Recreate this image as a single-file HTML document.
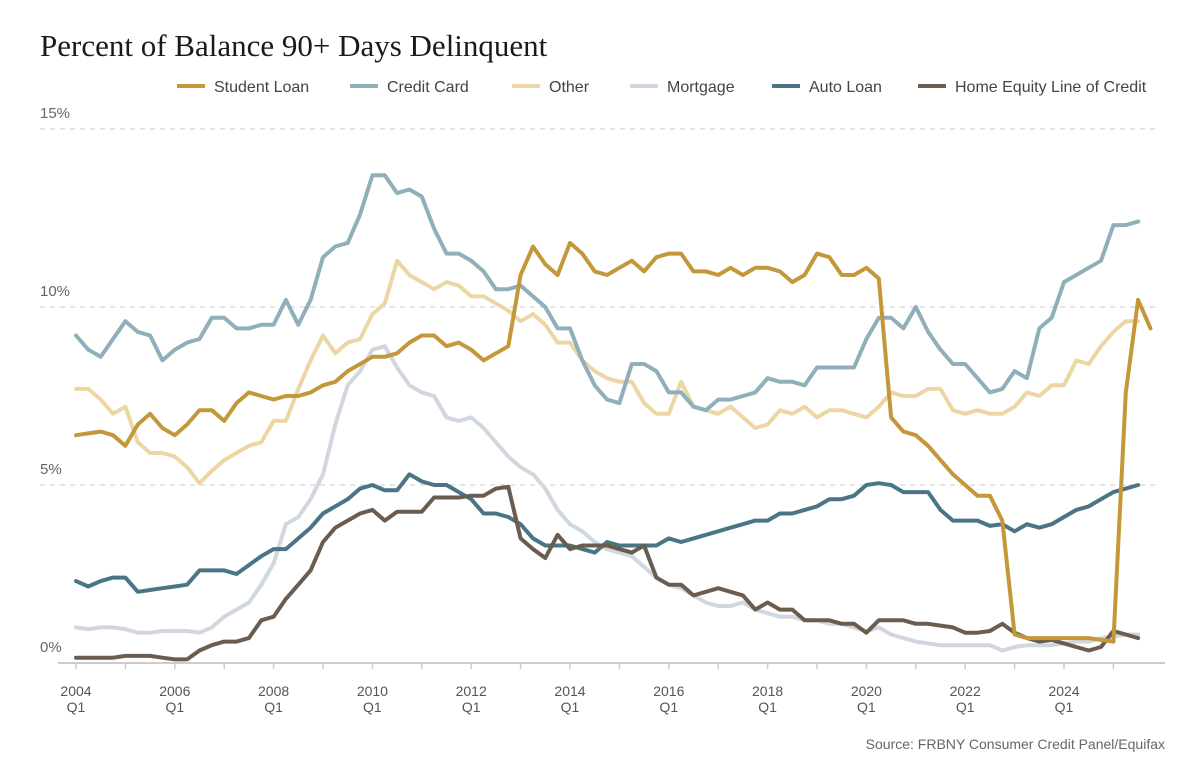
<!DOCTYPE html>
<html><head><meta charset="utf-8">
<style>
body{margin:0;background:#fff;width:1200px;height:767px;overflow:hidden;font-family:"Liberation Sans",sans-serif;}
svg{display:block}
</style></head>
<body>
<svg id="chart" width="1200" height="767" xmlns="http://www.w3.org/2000/svg">
<text x="40" y="56" font-family="Liberation Serif, serif" font-size="31" fill="#1a1a1a">Percent of Balance 90+ Days Delinquent</text>
<g id="legend"></g>
<g id="grid"></g>
<g id="series"></g>
<g id="xaxis"></g>
<text x="1165" y="749" text-anchor="end" font-size="14" fill="#666">Source: FRBNY Consumer Credit Panel/Equifax</text>
</svg>
<script>
const yTicks=[0,5,10,15];
const yTickLabels=["0%","5%","10%","15%"];
const xTickYears=[2004,2006,2008,2010,2012,2014,2016,2018,2020,2022,2024];
const seriesNames=["Mortgage","Other","Credit Card","Auto Loan","Home Equity Line of Credit","Student Loan"];
const legendOrder=["Student Loan","Credit Card","Other","Mortgage","Auto Loan","Home Equity Line of Credit"];
const studentLoan=[6.4,6.45,6.5,6.4, 6.1,6.7,7.0,6.6, 6.4,6.7,7.1,7.1, 6.8,7.3,7.6,7.5, 7.4,7.5,7.5,7.6, 7.8,7.9,8.2,8.4, 8.6,8.6,8.7,9.0, 9.2,9.2,8.9,9.0, 8.8,8.5,8.7,8.9, 10.9,11.7,11.2,10.9, 11.8,11.5,11.0,10.9, 11.1,11.3,11.0,11.4, 11.5,11.5,11.0,11.0, 10.9,11.1,10.9,11.1, 11.1,11.0,10.7,10.9, 11.5,11.4,10.9,10.9, 11.1,10.8,6.9,6.5, 6.4,6.1,5.7,5.3, 5.0,4.7,4.7,4.0, 0.8,0.7,0.7,0.7, 0.7,0.7,0.7,0.65, 0.6,7.6,10.2,9.4];
const creditCard=[9.2,8.8,8.6,9.1, 9.6,9.3,9.2,8.5, 8.8,9.0,9.1,9.7, 9.7,9.4,9.4,9.5, 9.5,10.2,9.5,10.2, 11.4,11.7,11.8,12.6, 13.7,13.7,13.2,13.3, 13.1,12.2,11.5,11.5, 11.3,11.0,10.5,10.5, 10.6,10.3,10.0,9.4, 9.4,8.5,7.8,7.4, 7.3,8.4,8.4,8.2, 7.6,7.6,7.2,7.1, 7.4,7.4,7.5,7.6, 8.0,7.9,7.9,7.8, 8.3,8.3,8.3,8.3, 9.1,9.7,9.7,9.4, 10.0,9.3,8.8,8.4, 8.4,8.0,7.6,7.7, 8.2,8.0,9.4,9.7, 10.7,10.9,11.1,11.3, 12.3,12.3,12.4];
const other=[7.7,7.7,7.4,7.0, 7.2,6.2,5.9,5.9, 5.8,5.5,5.05,5.4, 5.7,5.9,6.1,6.2, 6.8,6.8,7.7,8.5, 9.2,8.7,9.0,9.1, 9.8,10.1,11.3,10.9, 10.7,10.5,10.7,10.6, 10.3,10.3,10.1,9.9, 9.6,9.8,9.5,9.0, 9.0,8.5,8.2,8.0, 7.9,7.9,7.3,7.0, 7.0,7.9,7.2,7.1, 7.0,7.2,6.9,6.6, 6.7,7.1,7.0,7.2, 6.9,7.1,7.1,7.0, 6.9,7.2,7.6,7.5, 7.5,7.7,7.7,7.1, 7.0,7.1,7.0,7.0, 7.2,7.6,7.5,7.8, 7.8,8.5,8.4,8.9, 9.3,9.6,9.6];
const mortgage=[1.0,0.95,1.0,1.0, 0.95,0.85,0.85,0.9, 0.9,0.9,0.85,1.0, 1.3,1.5,1.7,2.2, 2.8,3.9,4.1,4.6, 5.3,6.7,7.8,8.2, 8.8,8.9,8.3,7.8, 7.6,7.5,6.9,6.8, 6.9,6.6,6.2,5.8, 5.5,5.3,4.9,4.3, 3.9,3.7,3.4,3.2, 3.1,3.0,2.7,2.4, 2.2,2.1,1.9,1.7, 1.6,1.6,1.7,1.5, 1.4,1.3,1.3,1.2, 1.2,1.1,1.1,1.0, 0.9,1.0,0.8,0.7, 0.6,0.55,0.5,0.5, 0.5,0.5,0.5,0.35, 0.45,0.5,0.5,0.5, 0.55,0.6,0.6,0.7, 0.75,0.8,0.8];
const autoLoan=[2.3,2.15,2.3,2.4, 2.4,2.0,2.05,2.1, 2.15,2.2,2.6,2.6, 2.6,2.5,2.75,3.0, 3.2,3.2,3.5,3.8, 4.2,4.4,4.6,4.9, 5.0,4.85,4.85,5.3, 5.1,5.0,5.0,4.8, 4.6,4.2,4.2,4.1, 3.9,3.5,3.3,3.3, 3.3,3.2,3.1,3.4, 3.3,3.3,3.3,3.3, 3.5,3.4,3.5,3.6, 3.7,3.8,3.9,4.0, 4.0,4.2,4.2,4.3, 4.4,4.6,4.6,4.7, 5.0,5.05,5.0,4.8, 4.8,4.8,4.3,4.0, 4.0,4.0,3.85,3.9, 3.7,3.9,3.8,3.9, 4.1,4.3,4.4,4.6, 4.8,4.9,5.0];
const heloc=[0.15,0.15,0.15,0.15, 0.2,0.2,0.2,0.15, 0.1,0.1,0.35,0.5, 0.6,0.6,0.7,1.2, 1.3,1.8,2.2,2.6, 3.4,3.8,4.0,4.2, 4.3,4.0,4.25,4.25, 4.25,4.65,4.65,4.65, 4.7,4.7,4.9,4.95, 3.5,3.2,2.95,3.6, 3.2,3.3,3.3,3.3, 3.2,3.1,3.3,2.4, 2.2,2.2,1.9,2.0, 2.1,2.0,1.9,1.5, 1.7,1.5,1.5,1.2, 1.2,1.2,1.1,1.1, 0.85,1.2,1.2,1.2, 1.1,1.1,1.05,1.0, 0.85,0.85,0.9,1.1, 0.85,0.7,0.6,0.65, 0.55,0.45,0.35,0.45, 0.9,0.8,0.7];

const seriesData={"Student Loan":studentLoan,"Credit Card":creditCard,"Other":other,"Mortgage":mortgage,"Auto Loan":autoLoan,"Home Equity Line of Credit":heloc};
const colors={"Student Loan":"#c4983a","Credit Card":"#8fb0ba","Other":"#ecd7a4","Mortgage":"#d0d7df","Auto Loan":"#4a7585","Home Equity Line of Credit":"#6b5c50"};
const NS="http://www.w3.org/2000/svg";
const X0=76, QW=12.35, Y0=663, PY=35.6;
function xs(i){return X0+QW*i;}
function xYear(y){return X0+(y-2004)*4*QW;}
function ys(v){return Y0-v*PY;}
function mk(tag,attrs,parent){const e=document.createElementNS(NS,tag);for(const k in attrs)e.setAttribute(k,attrs[k]);parent.appendChild(e);return e;}

const grid=document.getElementById('grid');
yTicks.forEach((t,i)=>{
  if(t>0){const l=mk('line',{x1:40,x2:1160,y1:ys(t),y2:ys(t),stroke:'#c8c8c8','stroke-width':1,'stroke-dasharray':'5,5'},grid);
  
  }
  const tx=mk('text',{x:40,y:ys(t)-11,'font-size':15,fill:'#666'},grid);
  tx.textContent=yTickLabels[i];
  
  
});

const sg=document.getElementById('series');
seriesNames.forEach(n=>{
  const d=seriesData[n].map((v,i)=>(i?'L':'M')+xs(i).toFixed(1)+','+ys(v).toFixed(1)).join(' ');
  const p=mk('path',{d:d,fill:'none',stroke:colors[n],'stroke-width':4,'stroke-linejoin':'round','stroke-linecap':'round'},sg);
  
  
});

const xa=document.getElementById('xaxis');
const base=mk('line',{x1:58,x2:1165,y1:663,y2:663,stroke:'#ccc','stroke-width':2},xa);


for(let y=2004;y<=2025;y++){
  const tk=mk('line',{x1:xYear(y),x2:xYear(y),y1:663,y2:669,stroke:'#ccc','stroke-width':1.5},xa);
  
  
}
xTickYears.forEach(y=>{
  const t=mk('text',{x:xYear(y),y:696,'text-anchor':'middle','font-size':14,fill:'#555'},xa);
  t.textContent=String(y);
  
  
  const q=mk('text',{x:xYear(y),y:712,'text-anchor':'middle','font-size':14,fill:'#555'},xa);
  q.textContent='Q1';
  
  
});

const lg=document.getElementById('legend');
const lx=[177,350,512,630,772,918];
legendOrder.forEach((n,i)=>{
  const g=mk('g',{},lg);
  
  
  mk('line',{x1:lx[i],x2:lx[i]+28,y1:86,y2:86,stroke:colors[n],'stroke-width':4},g);
  const t=mk('text',{x:lx[i]+37,y:92,'font-size':16,fill:'#444'},g);
  t.textContent=n;
});
</script>
</body></html>
